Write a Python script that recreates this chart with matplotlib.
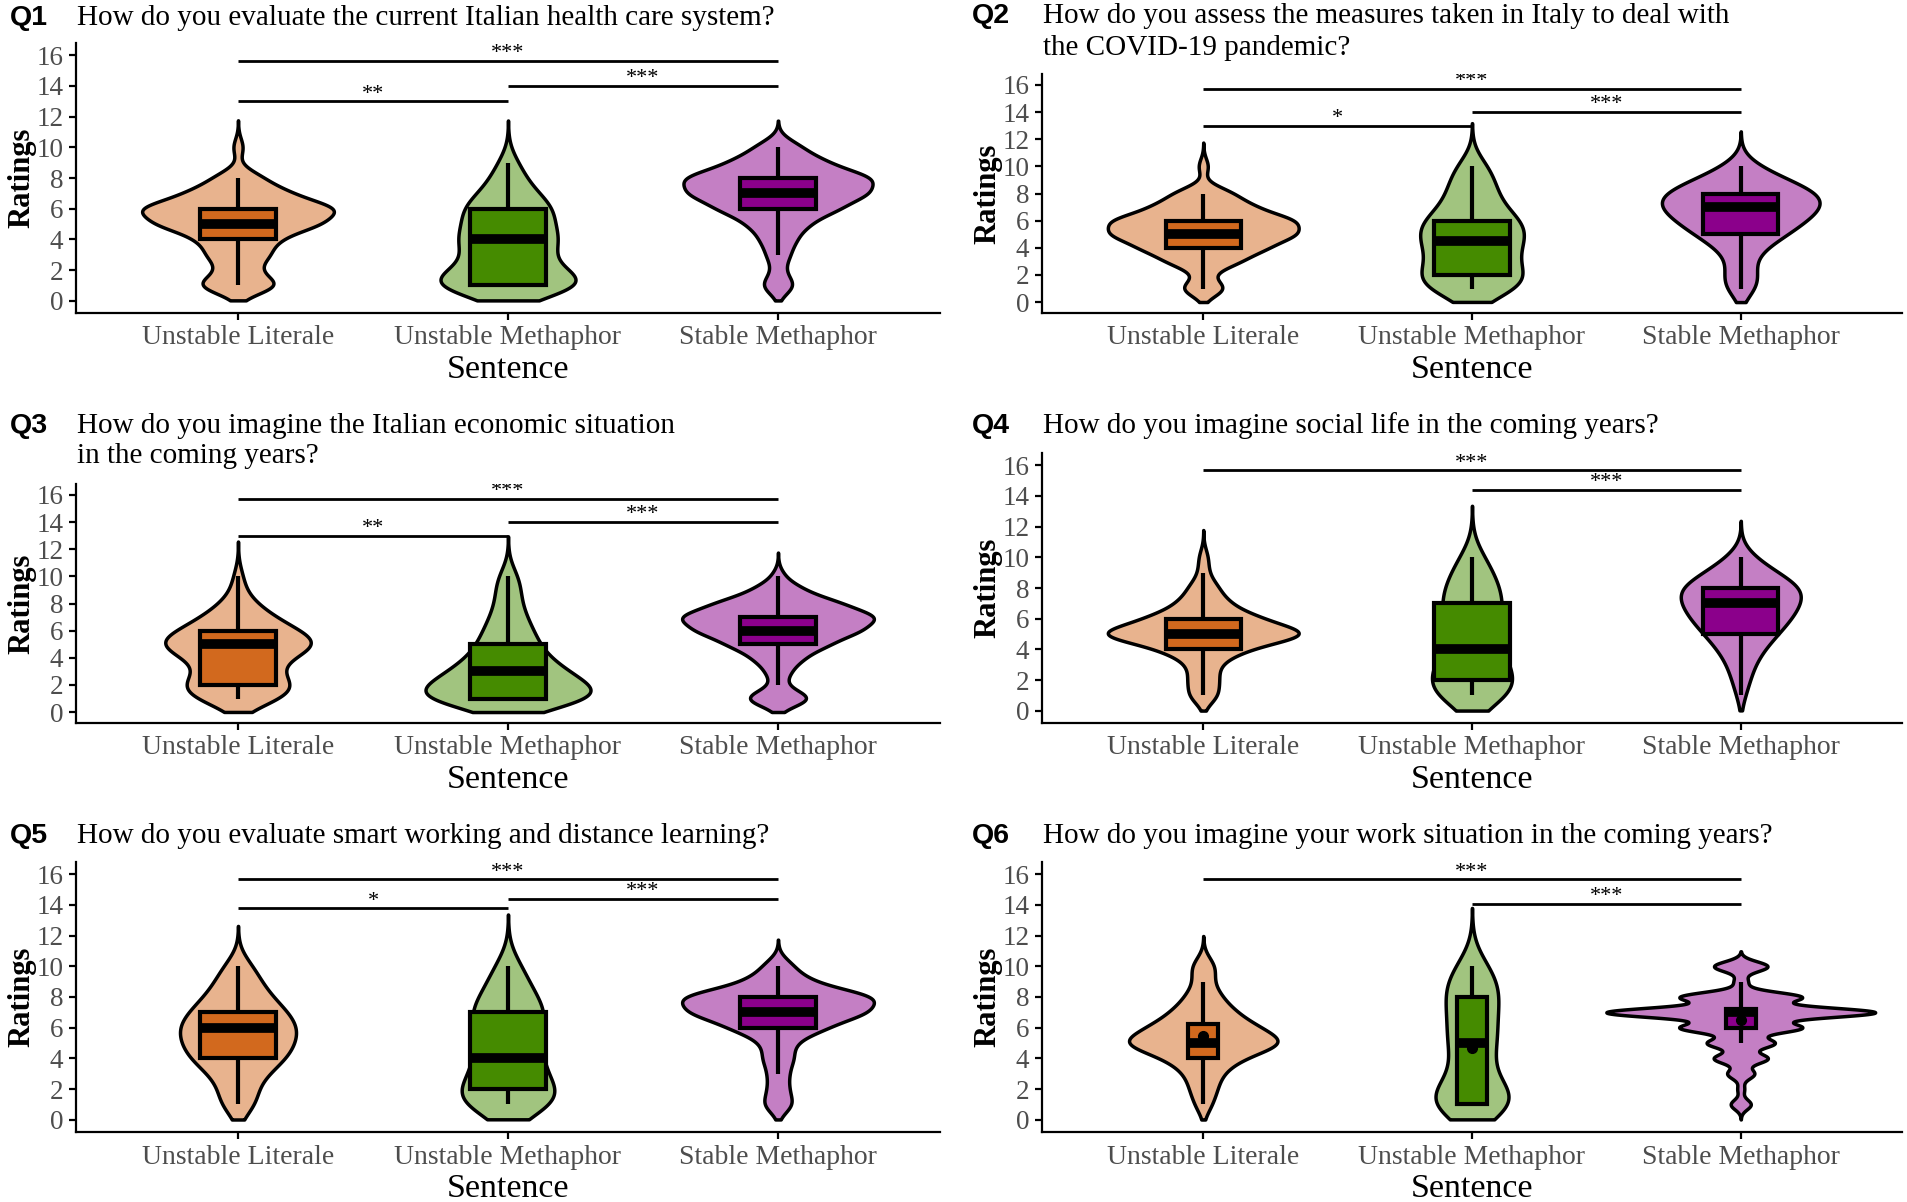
import numpy as np
import matplotlib
matplotlib.use('Agg')
import matplotlib.pyplot as plt
from matplotlib import mlab

plt.rcParams['font.family'] = ['Liberation Serif', 'DejaVu Serif']

# 데이터
ratings = np.arange(1, 11)
sentences = ['Unstable Literale', 'Unstable Methaphor', 'Stable Methaphor']
box_colors = ['#D2691E', '#458B00', '#8B008B']

q_labels = ['Q1', 'Q2', 'Q3', 'Q4', 'Q5', 'Q6']
q_titles = ['How do you evaluate the current Italian health care system?',
            'How do you assess the measures taken in Italy to deal with\nthe COVID-19 pandemic?',
            'How do you imagine the Italian economic situation\nin the coming years?',
            'How do you imagine social life in the coming years?',
            'How do you evaluate smart working and distance learning?',
            'How do you imagine your work situation in the coming years?']

# number of answers for each rating 1..10 (rows: sentence type)
q1_counts = [[7, 3, 5, 6, 13, 16, 8, 4, 0, 1],
             [20, 8, 7, 10, 7, 9, 5, 3, 2, 0],
             [3, 1, 2, 3, 5, 10, 15, 16, 8, 4]]
q2_counts = [[4, 1, 6, 10, 15, 15, 8, 5, 0, 1],
             [9, 8, 6, 7, 8, 8, 4, 4, 3, 3],
             [3, 3, 2, 4, 8, 11, 14, 14, 8, 3]]
q3_counts = [[8, 10, 6, 8, 15, 10, 6, 3, 1, 1],
             [20, 12, 10, 6, 5, 4, 3, 2, 2, 2],
             [6, 1, 2, 4, 8, 13, 16, 10, 4, 1]]
q4_counts = [[3, 3, 3, 8, 22, 11, 5, 3, 1, 1],
             [10, 9, 7, 6, 5, 6, 6, 6, 4, 3],
             [1, 2, 3, 5, 8, 11, 13, 14, 8, 3]]
q5_counts = [[4, 3, 5, 9, 10, 11, 9, 6, 4, 3],
             [11, 9, 5, 7, 4, 6, 7, 5, 3, 3],
             [3, 2, 2, 3, 3, 9, 17, 19, 6, 3]]
q6_counts = [[2, 3, 4, 8, 19, 12, 7, 4, 2, 3],
             [15, 6, 3, 4, 5, 5, 4, 6, 5, 4],
             [3, 1, 4, 8, 10, 18, 40, 18, 2, 8]]
all_counts = [q1_counts, q2_counts, q3_counts, q4_counts, q5_counts, q6_counts]

# significance brackets
q1_sig_pairs = [(1, 2), (2, 3), (1, 3)]
q1_sig_y = [13.0, 14.0, 15.65]
q1_sig_text = ['**', '***', '***']
q2_sig_pairs = [(1, 2), (2, 3), (1, 3)]
q2_sig_y = [13.0, 14.0, 15.7]
q2_sig_text = ['*', '***', '***']
q3_sig_pairs = [(1, 2), (2, 3), (1, 3)]
q3_sig_y = [13.0, 14.0, 15.7]
q3_sig_text = ['**', '***', '***']
q4_sig_pairs = [(2, 3), (1, 3)]
q4_sig_y = [14.4, 15.67]
q4_sig_text = ['***', '***']
q5_sig_pairs = [(1, 2), (2, 3), (1, 3)]
q5_sig_y = [13.77, 14.38, 15.66]
q5_sig_text = ['*', '***', '***']
q6_sig_pairs = [(2, 3), (1, 3)]
q6_sig_y = [14.07, 15.67]
q6_sig_text = ['***', '***']
all_sig = [(q1_sig_pairs, q1_sig_y, q1_sig_text), (q2_sig_pairs, q2_sig_y, q2_sig_text),
           (q3_sig_pairs, q3_sig_y, q3_sig_text), (q4_sig_pairs, q4_sig_y, q4_sig_text),
           (q5_sig_pairs, q5_sig_y, q5_sig_text), (q6_sig_pairs, q6_sig_y, q6_sig_text)]

# 레이아웃 (pixel)
W, H = 1907, 1202
col_x = [(76, 940), (1042, 1902)]
qlab_x = [10, 972]
row_y = [(43, 313), (74, 313), (484, 723), (453, 723), (862, 1132), (862, 1132)]
title_base = [[25], [23, 55], [433, 463], [433], [843], [843]]
violin_max_w = [0.71, 0.71, 0.71, 0.71, 0.71, 1.0]
box_w = [0.28, 0.28, 0.28, 0.28, 0.28, 0.11]


def nrd0(x):
    # R's bw.nrd0
    sd = np.std(x, ddof=1)
    q1, q3 = np.percentile(x, [25, 75])
    return 0.9 * min(sd, (q3 - q1) / 1.34) * len(x) ** -0.2


def violin_stats(x):
    bw = nrd0(x)
    kde = mlab.GaussianKDE(x, bw_method=bw / np.std(x, ddof=1))
    coords = np.linspace(x.min() - 3 * bw, x.max() + 3 * bw, 512)
    vals = kde.evaluate(coords)
    keep = coords >= 0  # y scale limited to 0..16
    return dict(coords=coords[keep], vals=vals[keep], mean=x.mean(),
                median=np.median(x), min=x.min(), max=x.max())


fig = plt.figure(figsize=(W / 100, H / 100), dpi=100)

for i in range(6):
    x0, x1 = col_x[i % 2]
    y0, y1 = row_y[i]
    ax = fig.add_axes([x0 / W, 1 - y1 / H, (x1 - x0) / W, (y1 - y0) / H])

    samples = [np.repeat(ratings, c).astype(float) for c in all_counts[i]]
    stats = [violin_stats(s) for s in samples]
    peak = max(st['vals'].max() for st in stats)
    widths = [violin_max_w[i] * st['vals'].max() / peak for st in stats]

    vp = ax.violin(stats, positions=[1, 2, 3], widths=widths, showextrema=False)
    for body, c in zip(vp['bodies'], box_colors):
        body.set_alpha(None)
        body.set_facecolor(matplotlib.colors.to_rgba(c, 0.5))
        body.set_edgecolor('black')
        body.set_linewidth(2.5)
        body.set_zorder(2)

    bp = ax.boxplot(samples, positions=[1, 2, 3], widths=box_w[i], patch_artist=True,
                    showfliers=False, showcaps=False, whis=1.5, manage_ticks=False,
                    boxprops=dict(edgecolor='black', linewidth=3),
                    whiskerprops=dict(color='black', linewidth=3, solid_capstyle='butt'),
                    medianprops=dict(color='black', linewidth=7, solid_capstyle='butt'),
                    zorder=3)
    for patch, c in zip(bp['boxes'], box_colors):
        patch.set_facecolor(c)

    if i == 5:
        ax.plot([1, 2, 3], [s.mean() for s in samples], 'o', color='black', ms=7, zorder=5)

    pairs, ys, labs = all_sig[i]
    for (a, b), y, lab in zip(pairs, ys, labs):
        ax.plot([a, b], [y, y], color='black', lw=2, solid_capstyle='butt', zorder=4)
        ax.annotate(lab, ((a + b) / 2, y), xytext=(0, 2), textcoords='offset points',
                    ha='center', va='baseline', fontsize=16, annotation_clip=False,
                    clip_on=True)

    ax.set_xlim(0.4, 3.6)
    ax.set_ylim(-0.8, 16.8)
    ax.set_yticks(range(0, 17, 2))
    ax.set_xticks([1, 2, 3])
    ax.set_xticklabels(sentences)
    for side in ['top', 'right']:
        ax.spines[side].set_visible(False)
    for side in ['left', 'bottom']:
        ax.spines[side].set_linewidth(1.6)
    ax.tick_params(axis='both', length=5, width=1.6, color='black', labelcolor='#4D4D4D')
    ax.tick_params(axis='x', labelsize=20, pad=4)
    ax.tick_params(axis='y', labelsize=19.5, pad=4)
    ax.set_xlabel('Sentence', fontsize=24.5, labelpad=3)
    ax.set_ylabel('Ratings', fontsize=22, fontweight='bold', labelpad=0)

    fig.text(qlab_x[i % 2] / W, 1 - title_base[i][0] / H, q_labels[i], fontsize=20.5,
             fontweight='bold', family='Liberation Sans', va='baseline', ha='left')
    for line, yb in zip(q_titles[i].split('\n'), title_base[i]):
        fig.text((x0 + 1) / W, 1 - yb / H, line, fontsize=21, va='baseline', ha='left')

fig.savefig('out.png', dpi=100)
